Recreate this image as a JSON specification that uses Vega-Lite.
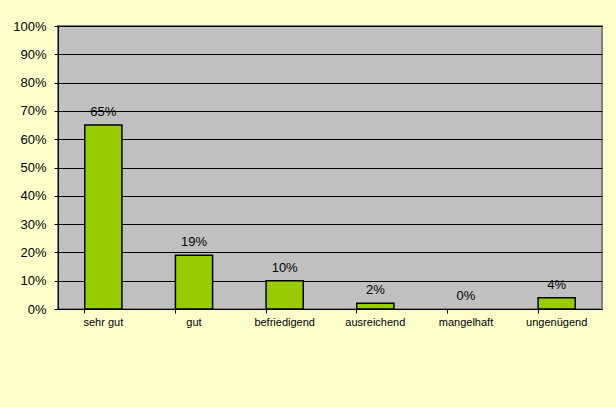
{
  "$schema": "https://vega.github.io/schema/vega-lite/v6.json",
  "autosize": {"type": "none"},
  "padding": {"left": 58, "top": 26, "right": 14, "bottom": 98},
  "width": 544,
  "height": 283,
  "background": "#FFFFCC",
  "config": {
    "view": {"fill": "#C0C0C0", "stroke": "#808080", "strokeWidth": 2},
    "font": "Liberation Sans"
  },
  "data": {
    "values": [
      {"note": "sehr gut", "anteil": 0.65},
      {"note": "gut", "anteil": 0.19},
      {"note": "befriedigend", "anteil": 0.10},
      {"note": "ausreichend", "anteil": 0.02},
      {"note": "mangelhaft", "anteil": 0.0},
      {"note": "ungenügend", "anteil": 0.04}
    ]
  },
  "encoding": {
    "x": {
      "field": "note", "type": "nominal", "sort": null,
      "scale": {"paddingInner": 0.59, "paddingOuter": 0.295},
      "axis": {
        "title": null, "labelAngle": 0, "labelFontSize": 11, "labelColor": "#000000",
        "domainColor": "#000000", "tickColor": "#000000", "tickSize": 4,
        "bandPosition": 0, "labelPadding": 3, "grid": false
      }
    },
    "y": {
      "field": "anteil", "type": "quantitative",
      "scale": {"domain": [0, 1], "nice": false},
      "axis": {
        "title": null, "format": ".0%", "values": [0, 0.1, 0.2, 0.3, 0.4, 0.5, 0.6, 0.7, 0.8, 0.9, 1.0],
        "labelFontSize": 13, "labelColor": "#000000", "labelPadding": 8,
        "domainColor": "#000000", "tickColor": "#000000", "tickSize": 4,
        "grid": true, "gridColor": "#000000", "gridOpacity": 1, "gridWidth": 1
      }
    }
  },
  "layer": [
    {
      "mark": {"type": "bar", "fill": "#99CC00", "strokeWidth": 1.5},
      "encoding": {
        "stroke": {"condition": {"test": "datum.anteil == 0", "value": null}, "value": "#000000"}
      }
    },
    {
      "mark": {"type": "text", "baseline": "bottom", "dy": -6, "fontSize": 13, "color": "#000000"},
      "encoding": {
        "text": {"field": "anteil", "type": "quantitative", "format": ".0%"}
      }
    }
  ]
}
